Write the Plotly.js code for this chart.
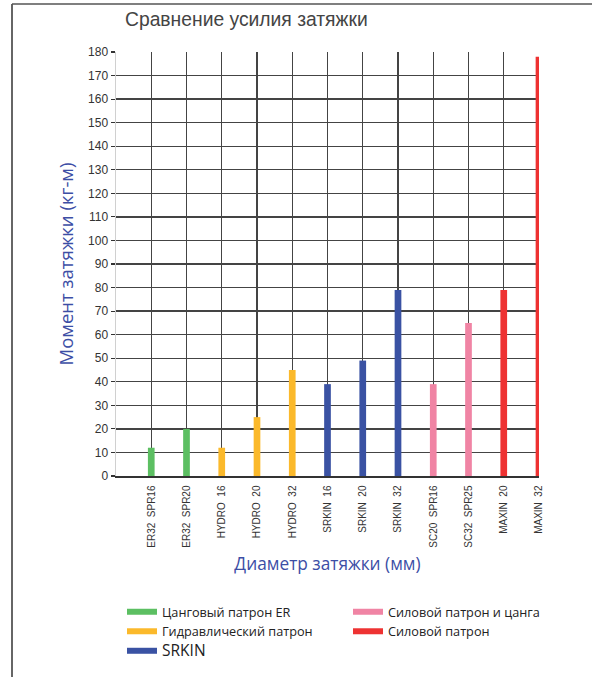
<!DOCTYPE html>
<html>
<head>
<meta charset="utf-8">
<script src="https://cdn.plot.ly/plotly-3.0.1.min.js"></script>
<style>html,body{margin:0;padding:0;background:#fff;}#chart{width:592px;height:677px;}</style>
</head>
<body>
<div id="chart"></div>
<script>
// Categories (x tick labels)
const categories = ["ER32  SPR16","ER32  SPR20","HYDRO  16","HYDRO  20","HYDRO  32","SRKIN  16","SRKIN  20","SRKIN  32","SC20  SPR16","SC32  SPR25","MAXIN  20","MAXIN  32"];

// Series (one per chuck type)
const erCats = ["ER32  SPR16","ER32  SPR20"];
const erValues = [12, 20];
const hydroCats = ["HYDRO  16","HYDRO  20","HYDRO  32"];
const hydroValues = [12, 25, 45];
const srkinCats = ["SRKIN  16","SRKIN  20","SRKIN  32"];
const srkinValues = [39, 49, 79];
const scCats = ["SC20  SPR16","SC32  SPR25"];
const scValues = [39, 65];
const maxinCats = ["MAXIN  20","MAXIN  32"];
const maxinValues = [79, 178];

const seriesNames = ["Цанговый патрон ER","Гидравлический патрон","SRKIN","Силовой патрон и цанга","Силовой патрон"];
const yTicks = [0,10,20,30,40,50,60,70,80,90,100,110,120,130,140,150,160,170,180];

const colors = {er:"#5cbf62", hydro:"#fbb92b", srkin:"#3a52a3", sc:"#f084a4", maxin:"#ee3232"};

function bar(x, y, color) {
  return {type:"bar", x:x, y:y, width:0.19, marker:{color:color, line:{width:0}}, showlegend:false, hoverinfo:"x+y"};
}
function leg(name, color, rank) {
  return {type:"scatter", mode:"lines", x:[null], y:[null], name:name, line:{color:color, width:6}, legendrank:rank, hoverinfo:"skip"};
}

const data = [
  bar(erCats, erValues, colors.er),
  bar(hydroCats, hydroValues, colors.hydro),
  bar(srkinCats, srkinValues, colors.srkin),
  bar(scCats, scValues, colors.sc),
  bar(maxinCats, maxinValues, colors.maxin),
  leg(seriesNames[0], colors.er, 1),
  leg(seriesNames[3], colors.sc, 2),
  leg(seriesNames[1], colors.hydro, 3),
  leg(seriesNames[4], colors.maxin, 4),
  leg('<span style="font-size:15.5px">' + seriesNames[2] + '</span>', colors.srkin, 5)
];

const L = 116, R = 53, T = 52, B = 201;
const W = 592, H = 677;
const pw = W - L - R, ph = H - T - B;
const px = v => (v - L) / pw;
const py = v => (H - B - v) / ph;

const layout = {
  width: W, height: H,
  margin: {l:L, r:R, t:T, b:B, pad:0, autoexpand:false},
  paper_bgcolor: "#fff", plot_bgcolor: "#fff",
  barmode: "overlay",
  font: {family:"Liberation Sans, Arial, sans-serif", color:"#333"},
  title: {text:"Сравнение усилия затяжки", x:px(125), xref:"paper", xanchor:"left", y:1-19/H, yref:"container", yanchor:"middle",
          font:{family:"Liberation Sans, Arial, sans-serif", size:19.3, color:"#444"}},
  xaxis: {
    type:"category", categoryorder:"array", categoryarray:categories,
    range:[-1, 11], showgrid:true, gridcolor:"#444", gridwidth:1.3,
    showline:true, linecolor:"#333", linewidth:1.5,
    ticks:"", tickangle:-90, ticklabelstandoff:4,
    tickfont:{family:"Liberation Sans, Arial, sans-serif", size:10, color:"#333"},
    title:{text:"Диаметр затяжки (мм)", standoff:11, font:{family:"Open Sans, sans-serif", size:17.3, color:"#3c4ea5"}},
    fixedrange:true
  },
  yaxis: {
    range:[0, 180], tickvals:yTicks, showgrid:true, gridcolor:"#444", gridwidth:1.3,
    zeroline:false, showline:true, linecolor:"#d0d0d0", linewidth:1.5,
    ticks:"outside", ticklen:4, tickcolor:"#333", tickwidth:1.2,
    tickfont:{family:"Liberation Sans, Arial, sans-serif", size:12, color:"#333"},
    title:{text:"Момент затяжки (кг-м)", standoff:9, font:{family:"Open Sans, sans-serif", size:18.5, color:"#3c4ea5"}},
    fixedrange:true
  },
  legend: {
    orientation:"h", x:px(115), xanchor:"left", y:py(597), yanchor:"top",
    indentation:7,
    entrywidth:174, entrywidthmode:"pixels", traceorder:"normal",
    font:{family:"Open Sans, sans-serif", size:12.7, color:"#222"},
    bgcolor:"rgba(0,0,0,0)"
  },
  shapes: [
    {type:"line", xref:"paper", yref:"paper", x0:px(12), x1:px(12), y0:py(4), y1:py(H+5), line:{color:"#333", width:1.5}},
    {type:"line", xref:"paper", yref:"paper", x0:px(12), x1:px(W+5), y0:py(4), y1:py(4), line:{color:"#555", width:1.5}}
  ]
};

Plotly.newPlot("chart", data, layout, {displayModeBar:false, staticPlot:true});
</script>
</body>
</html>
